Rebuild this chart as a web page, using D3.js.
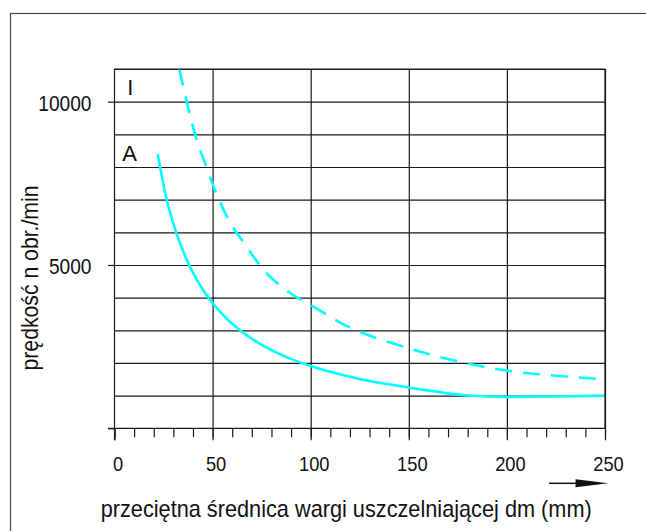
<!DOCTYPE html>
<html>
<head>
<meta charset="utf-8">
<script src="https://cdn.jsdelivr.net/npm/d3@7/dist/d3.min.js"></script>
<style>
  body { margin: 0; background: #fff; }
  svg text { font-family: "Liberation Sans", Arial, sans-serif; fill: #111; }
</style>
</head>
<body>
<div id="chart"></div>
<script>
// values: dm (mm) -> n (obr./min)
var seriesA_dm = [22, 26.6, 31.7, 38, 44, 50, 57, 64, 74, 87, 100, 125, 150, 180, 200, 225, 250];
var seriesA_n  = [8400, 7000, 5950, 5000, 4340, 3835, 3370, 3005, 2590, 2195, 1907, 1510, 1250, 1005, 962, 972, 1000];

var seriesI_dm = [33, 36.8, 41.9, 47.8, 50, 58, 67.4, 73.3, 91, 100, 117.5, 150, 178, 200, 225, 250];
var seriesI_n  = [11000, 10000, 8830, 7850, 7480, 6400, 5560, 5050, 4080, 3775, 3160, 2450, 2010, 1765, 1610, 1500];

var xTicks = [0, 50, 100, 150, 200, 250];
var xMinorTicks = d3.range(0, 251, 10);
var yTicks = [0, 5000, 10000];
var yTickLabels = ['', '5000', '10000'];
var yGridValues = d3.range(1000, 11001, 1000);

var xTitle = 'przeciętna średnica wargi uszczelniającej dm (mm)';
var yTitle = 'prędkość n obr./min';

var fullWidth = 646, fullHeight = 531;
var margin = {top: 69, right: 41, bottom: 102.7, left: 114.5};
var width = fullWidth - margin.left - margin.right;
var height = fullHeight - margin.top - margin.bottom;

var xScale = d3.scaleLinear().domain([0, 250]).range([0, width]);
var yScale = d3.scaleLinear().domain([0, 11000]).range([height, 0]);

var root = d3.select('#chart')
  .append('svg')
  .attr('width', fullWidth)
  .attr('height', fullHeight);

// outer frame, runs off the right and bottom edge
root.append('rect')
  .attr('x', 10.5).attr('y', 13.5)
  .attr('width', 700).attr('height', 600)
  .attr('fill', 'none')
  .attr('stroke', '#444')
  .attr('stroke-width', 1.2);

var svg = root.append('g')
  .attr('transform', `translate(${margin.left},${margin.top})`);

// squeeze text a little, the original font is slightly condensed
var squeeze = (sel, k) => {
  sel.each(function(){
    var w = this.getComputedTextLength();
    d3.select(this).attr('textLength', w * k).attr('lengthAdjust', 'spacingAndGlyphs');
  });
};

// grid
svg.append('g')
  .attr('class', 'grid y')
  .call(d3.axisLeft(yScale).tickValues(yGridValues).tickSize(-width).tickFormat(''))
  .call(g => g.select('.domain').remove());

svg.append('g')
  .attr('class', 'grid x')
  .attr('transform', `translate(0,${height})`)
  .call(d3.axisBottom(xScale).tickValues(xTicks.slice(1)).tickSize(height).tickFormat(''))
  .call(g => g.select('.domain').remove())
  .selectAll('line').attr('y1', -height).attr('y2', 0);

svg.selectAll('.grid line')
  .attr('stroke', '#1a1a1a')
  .attr('stroke-width', 1.2);

// curves
var line = d3.line()
  .x(d => xScale(d[0]))
  .y(d => yScale(d[1]))
  .curve(d3.curveMonotoneX);

svg.append('path')
  .datum(d3.zip(seriesA_dm, seriesA_n))
  .attr('fill', 'none')
  .attr('stroke', '#00ffff')
  .attr('stroke-width', 2.6)
  .attr('d', line);

svg.append('path')
  .datum(d3.zip(seriesI_dm, seriesI_n))
  .attr('fill', 'none')
  .attr('stroke', '#00ffff')
  .attr('stroke-width', 2.6)
  .attr('stroke-dasharray', '17,11')
  .attr('d', line);

// axes
var xMinor = svg.append('g')
  .attr('transform', `translate(0,${height})`)
  .call(d3.axisBottom(xScale).tickValues(xMinorTicks).tickSize(9).tickFormat(''));
xMinor.select('.domain').remove();

var xAxis = svg.append('g')
  .attr('class', 'axis x')
  .attr('transform', `translate(0,${height})`)
  .call(d3.axisBottom(xScale).tickValues(xTicks).tickSize(12).tickPadding(15.5).tickFormat(d3.format('d')));
xAxis.select('.domain').remove();
xAxis.selectAll('text').attr('font-size', 21).attr('dx', 3);

var yAxis = svg.append('g')
  .attr('class', 'axis y')
  .call(d3.axisLeft(yScale).tickValues(yTicks).tickSize(6.5).tickPadding(16.5)
    .tickFormat((d, i) => yTickLabels[i]));
yAxis.select('.domain').remove();
yAxis.selectAll('text').attr('font-size', 22.5).attr('dy', '0.4em');

svg.selectAll('.tick line').attr('stroke', '#1a1a1a').attr('stroke-width', 1.2);
svg.selectAll('.tick text').attr('fill', '#111').attr('font-family', null);

// plot frame
svg.append('path')
  .attr('d', `M0,${height + 12}V0H${width}V${height}H-6.5`)
  .attr('fill', 'none')
  .attr('stroke', '#1a1a1a')
  .attr('stroke-width', 1.2);

// curve names
svg.append('text')
  .attr('x', xScale(8)).attr('y', yScale(10190))
  .attr('text-anchor', 'middle')
  .attr('font-size', 22)
  .text('I');
svg.append('text')
  .attr('x', xScale(7.7)).attr('y', yScale(8180))
  .attr('text-anchor', 'middle')
  .attr('font-size', 22)
  .text('A');

// titles
var xt = root.append('text')
  .attr('x', 346.2).attr('y', 516.7)
  .attr('text-anchor', 'middle')
  .attr('font-size', 24)
  .text(xTitle);
xt.attr('textLength', 491).attr('lengthAdjust', 'spacingAndGlyphs');

var yt = root.append('text')
  .attr('transform', 'translate(38,278) rotate(-90)')
  .attr('text-anchor', 'middle')
  .attr('font-size', 24)
  .text(yTitle);
yt.attr('textLength', 185).attr('lengthAdjust', 'spacingAndGlyphs');

squeeze(xAxis.selectAll('text'), 0.87);
squeeze(yAxis.selectAll('text'), 0.85);

// arrow under the x axis
var ay = 483.3;
root.append('line')
  .attr('x1', margin.left + xScale(221.5)).attr('x2', margin.left + xScale(236))
  .attr('y1', ay).attr('y2', ay)
  .attr('stroke', '#111')
  .attr('stroke-width', 1.5);
root.append('path')
  .attr('d', `M${margin.left + xScale(235)},${ay - 4}L${margin.left + xScale(251.7)},${ay}L${margin.left + xScale(235)},${ay + 4}Z`)
  .attr('fill', '#111');
</script>
</body>
</html>
